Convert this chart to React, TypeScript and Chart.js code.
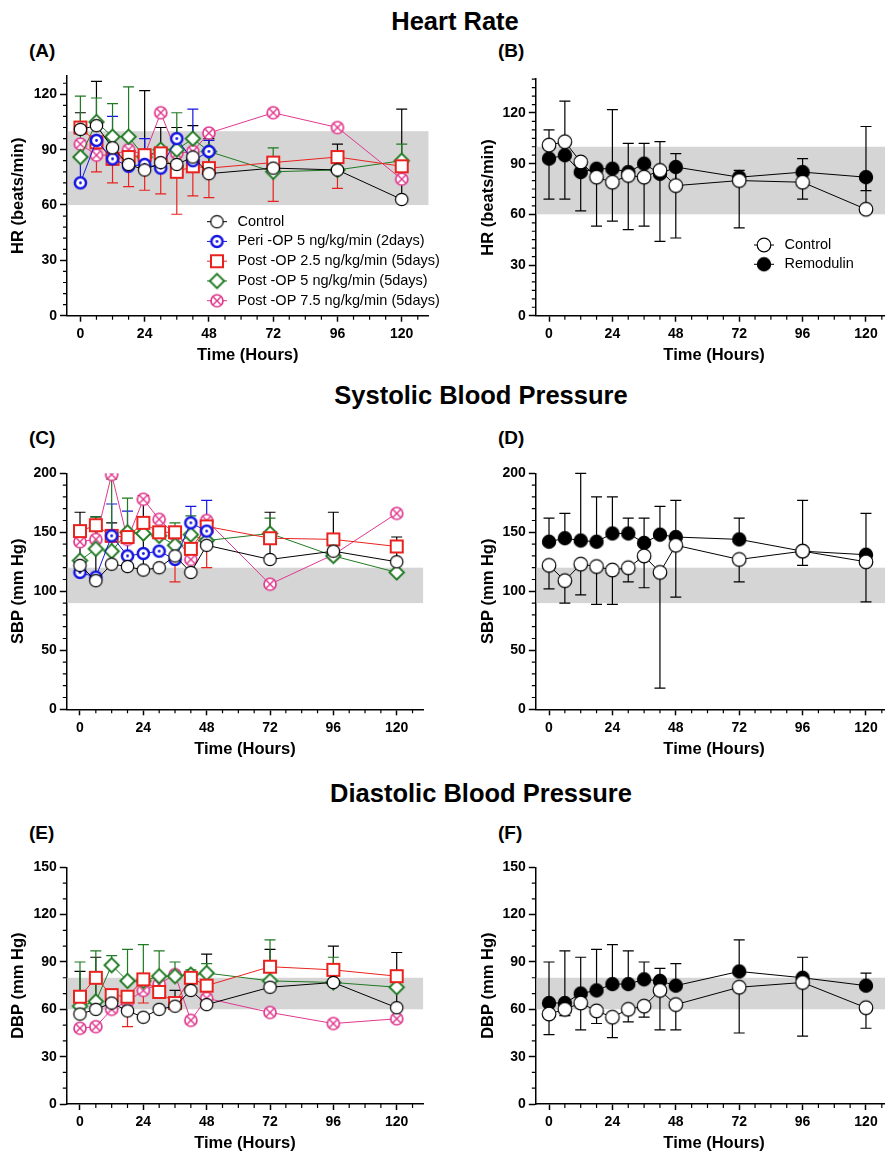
import React, { useEffect, useRef } from "react";
import { Chart, registerables } from "chart.js";
Chart.register(...registerables);

const FONT = "'Liberation Sans', Arial, Helvetica, sans-serif";

// ---------- categories / ticks ----------
const HOURS = [0, 6, 12, 18, 24, 30, 36, 42, 48, 72, 96, 120];
const HOURS_48 = [0, 6, 12, 18, 24, 30, 36, 42, 48];
const X_MAJOR = [0, 24, 48, 72, 96, 120];
const HR_TICKS = [0, 30, 60, 90, 120];
const SBP_TICKS = [0, 50, 100, 150, 200];
const DBP_TICKS = [0, 30, 60, 90, 120, 150];

// ---------- (A) Heart rate, groups ----------
const hrA_ctrl = [101, 103, 91, 82, 79, 83, 82, 86, 77, 80, 79, 63];
const hrA_ctrlHi = [110, 127, null, null, 122, 102, 102, 103, 96, 86, 93, 112];
const hrA_peri = [72, 95, 85, 81, 82, 80, 96, 84, 89];
const hrA_periHi = [87, null, 108, null, 96, null, null, 112, 95];
const hrA_p25 = [102, 94, 85, 86, 87, 88, 78, 81, 80, 83, 86, 81];
const hrA_p25Lo = [null, 78, 72, 70, 68, 66, 55, 65, 64, 62, 69, null];
const hrA_p5 = [86, 105, 97, 97, 86, 90, 90, 96, 89, 78, 79, 84];
const hrA_p5Hi = [119, 118, 115, 124, null, null, 110, null, null, 91, null, 93];
const hrA_p75 = [93, 87, 87, 90, 87, 110, 88, 89, 99, 110, 102, 74];

// ---------- (B) Heart rate, pooled ----------
const hrB_ctrl = [101, 103, 91, 82, 79, 83, 82, 86, 77, 80, 79, 63];
const hrB_ctrlHi = [110, 127, null, null, 122, 102, 102, 103, 96, 86, 93, 112];
const hrB_rem = [93, 95, 85, 87, 87, 85, 90, 84, 88, 82, 85, 82];
const hrB_remLo = [69, 69, 62, 53, 56, 51, 53, 44, 46, 52, 69, 74];

// ---------- (C) Systolic, groups ----------
const sbpC_ctrl = [122, 109, 123, 121, 118, 120, 130, 116, 139, 127, 134, 125];
const sbpC_ctrlHi = [167, 163, 158, null, 181, null, null, null, null, 167, 167, 146];
const sbpC_peri = [116, 112, 147, 130, 132, 134, 127, 158, 151];
const sbpC_periHi = [null, null, 174, 168, null, null, null, 172, 177];
const sbpC_p25 = [151, 156, 147, 146, 158, 150, 150, 136, 155, 145, 144, 138];
const sbpC_p25Lo = [null, null, null, null, null, null, 108, null, 120, null, null, null];
const sbpC_p5 = [126, 136, 134, 150, 149, 147, 139, 148, 143, 149, 130, 116];
const sbpC_p5Hi = [null, 163, 195, 179, null, null, 158, 164, null, 162, null, null];
const sbpC_p75 = [142, 144, 199, 144, 178, 161, 148, 127, 160, 106, 131, 166];

// ---------- (D) Systolic, pooled ----------
const sbpD_ctrl = [122, 109, 123, 121, 118, 120, 130, 116, 139, 127, 134, 125];
const sbpD_ctrlLo = [102, 90, 97, 89, 89, 108, 103, 18, 95, 108, 122, 91];
const sbpD_rem = [142, 145, 143, 142, 149, 149, 141, 148, 146, 144, 134, 131];
const sbpD_remHi = [162, 166, 200, 180, 180, 162, 162, 172, 177, 162, 177, 166];

// ---------- (E) Diastolic, groups ----------
const dbpE_ctrl = [57, 60, 64, 59, 55, 60, 62, 72, 63, 74, 77, 61];
const dbpE_ctrlHi = [84, 93, null, null, null, null, 72, null, 95, 98, 100, 96];
const dbpE_p25 = [68, 80, 69, 68, 79, 71, 64, 80, 75, 87, 85, 81];
const dbpE_p25Lo = [null, null, null, 49, 64, null, null, null, null, null, null, null];
const dbpE_p5 = [62, 65, 88, 78, 78, 81, 81, 82, 83, 78, 77, 74];
const dbpE_p5Hi = [90, 97, 94, 98, 101, 97, 90, 85, 89, 104, 93, null];
const dbpE_p75 = [48, 49, 60, 65, 72, 76, 82, 53, 67, 58, 51, 54];

// ---------- (F) Diastolic, pooled ----------
const dbpF_ctrl = [57, 60, 64, 59, 55, 60, 62, 72, 63, 74, 77, 61];
const dbpF_ctrlLo = [44, 56, 47, 51, 42, 52, 55, 47, 47, 45, 43, 48];
const dbpF_rem = [64, 64, 70, 72, 76, 76, 79, 78, 75, 84, 80, 75];
const dbpF_remHi = [90, 97, 93, 98, 101, 97, 90, 86, 89, 104, 93, 83];

const LBL_CTRL = "Control";
const LBL_PERI = "Peri -OP 5 ng/kg/min (2days)";
const LBL_P25 = "Post -OP 2.5 ng/kg/min (5days)";
const LBL_P5 = "Post -OP 5 ng/kg/min (5days)";
const LBL_P75 = "Post -OP 7.5 ng/kg/min (5days)";
const LBL_REM = "Remodulin";

// ---------- styles ----------
const BLACK = "#000000";
const BLUE = "#1616e2";
const RED = "#e8231f";
const GREEN = "#1f7a22";
const PINK = "#e0388e";
const BAND = "#d5d5d5";

type Marker = { shape: string; r: number; stroke: string; fill: string; lw: number };
const MK: Record<string, Marker> = {
  ctrl: { shape: "circle", r: 6.2, stroke: BLACK, fill: "#fff", lw: 1.2 },
  peri: { shape: "odot", r: 5.6, stroke: BLUE, fill: "#fff", lw: 2.5 },
  p25: { shape: "square", r: 6, stroke: RED, fill: "#fff", lw: 2 },
  p5: { shape: "diamond", r: 7.2, stroke: GREEN, fill: "#fff", lw: 1.9 },
  p75: { shape: "otimes", r: 6, stroke: PINK, fill: "#fff", lw: 1.7 },
  ctrl2: { shape: "circle", r: 6.8, stroke: BLACK, fill: "#fff", lw: 1.2 },
  rem: { shape: "circle", r: 6.6, stroke: BLACK, fill: BLACK, lw: 1.2 },
};

function drawMarker(ctx: CanvasRenderingContext2D, m: Marker, x: number, y: number) {
  ctx.save();
  ctx.lineWidth = m.lw;
  ctx.strokeStyle = m.stroke;
  ctx.fillStyle = m.fill;
  ctx.beginPath();
  if (m.shape === "square") ctx.rect(x - m.r, y - m.r, 2 * m.r, 2 * m.r);
  else if (m.shape === "diamond") {
    ctx.moveTo(x, y - m.r);
    ctx.lineTo(x + m.r, y);
    ctx.lineTo(x, y + m.r);
    ctx.lineTo(x - m.r, y);
    ctx.closePath();
  } else ctx.arc(x, y, m.r, 0, Math.PI * 2);
  ctx.fill();
  ctx.stroke();
  if (m.shape === "otimes") {
    const d = m.r * 0.62;
    ctx.lineWidth = 1.4;
    ctx.beginPath();
    ctx.moveTo(x - d, y - d);
    ctx.lineTo(x + d, y + d);
    ctx.moveTo(x + d, y - d);
    ctx.lineTo(x - d, y + d);
    ctx.stroke();
  }
  if (m.shape === "odot") {
    ctx.fillStyle = m.stroke;
    ctx.beginPath();
    ctx.arc(x, y, 1.4, 0, Math.PI * 2);
    ctx.fill();
  }
  ctx.restore();
}

const markerCache: Record<string, HTMLCanvasElement> = {};
function markerCanvas(key: string): HTMLCanvasElement {
  if (markerCache[key]) return markerCache[key];
  const m = MK[key];
  const s = Math.ceil(2 * m.r + 2 * m.lw + 2);
  const c = document.createElement("canvas");
  c.width = s;
  c.height = s;
  drawMarker(c.getContext("2d")!, m, s / 2, s / 2);
  markerCache[key] = c;
  return c;
}

// ---------- geometry (page px) ----------
type Geom = { cx: number; cy: number; cw: number; ch: number; L: number; R: number; T: number; B: number; yTitleX: number; xTitleY: number };
const GEOM: Record<string, Geom> = {
  A: { cx: 0, cy: 40, cw: 470, ch: 340, L: 67, R: 428.5, T: 75.85, B: 315.7, yTitleX: 18, xTitleY: 355 },
  B: { cx: 445, cy: 40, cw: 460, ch: 340, L: 535.8, R: 892.4, T: 79.2, B: 315.7, yTitleX: 488.3, xTitleY: 355 },
  C: { cx: 0, cy: 420, cw: 470, ch: 340, L: 66.8, R: 423.1, T: 473.3, B: 709.3, yTitleX: 18, xTitleY: 749 },
  D: { cx: 445, cy: 420, cw: 460, ch: 340, L: 535.8, R: 892.4, T: 473.3, B: 709.3, yTitleX: 488.3, xTitleY: 749 },
  E: { cx: 0, cy: 840, cw: 470, ch: 313, L: 66.8, R: 423.1, T: 867.3, B: 1104, yTitleX: 18, xTitleY: 1143 },
  F: { cx: 445, cy: 840, cw: 460, ch: 313, L: 535.8, R: 892.4, T: 867.3, B: 1104, yTitleX: 488.3, xTitleY: 1143 },
};

type SeriesDef = { label: string; xs: number[]; ys: number[]; color: string; mk: string; hi?: (number | null)[]; lo?: (number | null)[] };
type PanelDef = { key: string; yMax: number; yTicks: number[]; yMinor: number; yTitle: string; series: SeriesDef[]; legend?: { x: number; y: number; dy: number; items: { label: string; color: string; mk: string }[] } };

const PANELS: PanelDef[] = [
  {
    key: "A", yMax: 130, yTicks: HR_TICKS, yMinor: 6, yTitle: "HR (beats/min)",
    series: [
      { label: LBL_CTRL, xs: HOURS, ys: hrA_ctrl, color: BLACK, mk: "ctrl", hi: hrA_ctrlHi },
      { label: LBL_PERI, xs: HOURS_48, ys: hrA_peri, color: BLUE, mk: "peri", hi: hrA_periHi },
      { label: LBL_P25, xs: HOURS, ys: hrA_p25, color: RED, mk: "p25", lo: hrA_p25Lo },
      { label: LBL_P5, xs: HOURS, ys: hrA_p5, color: GREEN, mk: "p5", hi: hrA_p5Hi },
      { label: LBL_P75, xs: HOURS, ys: hrA_p75, color: PINK, mk: "p75" },
    ],
    legend: {
      x: 217, y: 221.7, dy: 19.75,
      items: [
        { label: LBL_CTRL, color: BLACK, mk: "ctrl" },
        { label: LBL_PERI, color: BLUE, mk: "peri" },
        { label: LBL_P25, color: RED, mk: "p25" },
        { label: LBL_P5, color: GREEN, mk: "p5" },
        { label: LBL_P75, color: PINK, mk: "p75" },
      ],
    },
  },
  {
    key: "B", yMax: 140, yTicks: HR_TICKS, yMinor: 5, yTitle: "HR (beats/min)",
    series: [
      { label: LBL_CTRL, xs: HOURS, ys: hrB_ctrl, color: BLACK, mk: "ctrl2", hi: hrB_ctrlHi },
      { label: LBL_REM, xs: HOURS, ys: hrB_rem, color: BLACK, mk: "rem", lo: hrB_remLo },
    ],
    legend: {
      x: 764, y: 245, dy: 19.3,
      items: [
        { label: LBL_CTRL, color: BLACK, mk: "ctrl2" },
        { label: LBL_REM, color: BLACK, mk: "rem" },
      ],
    },
  },
  {
    key: "C", yMax: 200, yTicks: SBP_TICKS, yMinor: 10, yTitle: "SBP (mm Hg)",
    series: [
      { label: LBL_CTRL, xs: HOURS, ys: sbpC_ctrl, color: BLACK, mk: "ctrl", hi: sbpC_ctrlHi },
      { label: LBL_PERI, xs: HOURS_48, ys: sbpC_peri, color: BLUE, mk: "peri", hi: sbpC_periHi },
      { label: LBL_P25, xs: HOURS, ys: sbpC_p25, color: RED, mk: "p25", lo: sbpC_p25Lo },
      { label: LBL_P5, xs: HOURS, ys: sbpC_p5, color: GREEN, mk: "p5", hi: sbpC_p5Hi },
      { label: LBL_P75, xs: HOURS, ys: sbpC_p75, color: PINK, mk: "p75" },
    ],
  },
  {
    key: "D", yMax: 200, yTicks: SBP_TICKS, yMinor: 10, yTitle: "SBP (mm Hg)",
    series: [
      { label: LBL_CTRL, xs: HOURS, ys: sbpD_ctrl, color: BLACK, mk: "ctrl2", lo: sbpD_ctrlLo },
      { label: LBL_REM, xs: HOURS, ys: sbpD_rem, color: BLACK, mk: "rem", hi: sbpD_remHi },
    ],
  },
  {
    key: "E", yMax: 150, yTicks: DBP_TICKS, yMinor: 10, yTitle: "DBP (mm Hg)",
    series: [
      { label: LBL_CTRL, xs: HOURS, ys: dbpE_ctrl, color: BLACK, mk: "ctrl", hi: dbpE_ctrlHi },
      { label: LBL_P25, xs: HOURS, ys: dbpE_p25, color: RED, mk: "p25", lo: dbpE_p25Lo },
      { label: LBL_P5, xs: HOURS, ys: dbpE_p5, color: GREEN, mk: "p5", hi: dbpE_p5Hi },
      { label: LBL_P75, xs: HOURS, ys: dbpE_p75, color: PINK, mk: "p75" },
    ],
  },
  {
    key: "F", yMax: 150, yTicks: DBP_TICKS, yMinor: 10, yTitle: "DBP (mm Hg)",
    series: [
      { label: LBL_CTRL, xs: HOURS, ys: dbpF_ctrl, color: BLACK, mk: "ctrl2", lo: dbpF_ctrlLo },
      { label: LBL_REM, xs: HOURS, ys: dbpF_rem, color: BLACK, mk: "rem", hi: dbpF_remHi },
    ],
  },
];

const BAND_RANGE: Record<string, [number, number]> = {
  A: [60, 100], B: [60, 100], C: [90, 120], D: [90, 120], E: [60, 80], F: [60, 80],
};

const TITLE_LH = 1.2;
const TITLE_FS = 16.5;

// ---------- plugins ----------
const bandPlugin = {
  id: "band",
  beforeDatasetsDraw(chart: any, _a: any, opts: any) {
    const { ctx, chartArea, scales } = chart;
    const y1 = scales.y.getPixelForValue(opts.range[1]);
    const y0 = scales.y.getPixelForValue(opts.range[0]);
    ctx.save();
    ctx.fillStyle = BAND;
    ctx.fillRect(chartArea.left + 0.8, y1, chartArea.right - chartArea.left - 0.8, y0 - y1);
    ctx.restore();
  },
};

const errPlugin = {
  id: "errbars",
  beforeDatasetsDraw(chart: any) {
    const { ctx, scales } = chart;
    chart.data.datasets.forEach((d: any) => {
      const draw = (arr: (number | null)[] | undefined) => {
        if (!arr) return;
        arr.forEach((v, j) => {
          if (v == null || !d.data[j]) return;
          const pt = d.data[j];
          const px = scales.x.getPixelForValue(pt.x);
          const p0 = scales.y.getPixelForValue(pt.y);
          const p1 = scales.y.getPixelForValue(v);
          ctx.beginPath();
          ctx.moveTo(px, p0);
          ctx.lineTo(px, p1);
          ctx.moveTo(px - 5.5, p1);
          ctx.lineTo(px + 5.5, p1);
          ctx.stroke();
        });
      };
      ctx.save();
      ctx.strokeStyle = d.borderColor;
      ctx.lineWidth = 1.2;
      draw(d.errHi);
      draw(d.errLo);
      ctx.restore();
    });
  },
};

const minorPlugin = {
  id: "minor",
  afterDraw(chart: any, _a: any, opts: any) {
    const { ctx, chartArea, scales } = chart;
    ctx.save();
    ctx.strokeStyle = "#000";
    ctx.lineWidth = 1.2;
    ctx.beginPath();
    for (let v = 6; v <= 126; v += 6) {
      if (X_MAJOR.includes(v)) continue;
      const px = scales.x.getPixelForValue(v);
      ctx.moveTo(px, chartArea.bottom);
      ctx.lineTo(px, chartArea.bottom + 4);
    }
    for (let v = opts.step; v <= opts.max + 0.001; v += opts.step) {
      if (opts.major.includes(v)) continue;
      const py = scales.y.getPixelForValue(v);
      ctx.moveTo(chartArea.left - 4, py);
      ctx.lineTo(chartArea.left, py);
    }
    ctx.stroke();
    ctx.restore();
  },
};

const legendPlugin = {
  id: "customLegend",
  afterDraw(chart: any, _a: any, opts: any) {
    if (!opts || !opts.items) return;
    const { ctx } = chart;
    ctx.save();
    opts.items.forEach((it: any, i: number) => {
      const cy = opts.y + i * opts.dy;
      ctx.strokeStyle = it.color;
      ctx.lineWidth = 1;
      ctx.beginPath();
      ctx.moveTo(opts.x - 10, cy);
      ctx.lineTo(opts.x + 10, cy);
      ctx.stroke();
      const img = markerCanvas(it.mk);
      ctx.drawImage(img, opts.x - img.width / 2, cy - img.height / 2);
      ctx.fillStyle = "#000";
      ctx.font = `14.5px ${FONT}`;
      ctx.textBaseline = "middle";
      ctx.textAlign = "left";
      ctx.fillText(it.label, opts.x + 20.5, cy);
    });
    ctx.restore();
  },
};

function buildConfig(p: PanelDef): any {
  const g = GEOM[p.key];
  const yW = g.L - g.cx;
  const padT = g.T - g.cy;
  const padR = g.cx + g.cw - g.R;
  const xH = g.cy + g.ch - g.B;
  const lh = TITLE_FS * TITLE_LH;
  const yTitlePad = g.yTitleX - g.cx - lh / 2;
  const xTitlePad = g.cy + g.ch - g.xTitleY - lh / 2;
  const tickFont = { family: FONT, size: 14, weight: "bold" };
  const titleFont = { family: FONT, size: TITLE_FS, weight: "bold", lineHeight: TITLE_LH };
  const datasets = p.series.map((s) => ({
    label: s.label,
    data: s.xs.map((x, i) => ({ x, y: s.ys[i] })),
    borderColor: s.color,
    backgroundColor: s.color,
    borderWidth: 1,
    pointStyle: markerCanvas(s.mk),
    pointRadius: MK[s.mk].r,
    pointHoverRadius: MK[s.mk].r,
    tension: 0,
    fill: false,
    errHi: s.hi,
    errLo: s.lo,
  }));
  const legendOpts = p.legend
    ? { x: p.legend.x - g.cx, y: p.legend.y - g.cy, dy: p.legend.dy, items: p.legend.items }
    : {};
  return {
    type: "line",
    data: { datasets },
    options: {
      responsive: false,
      animation: false,
      events: [],
      layout: { padding: { left: 0, top: padT, right: padR, bottom: 0 } },
      plugins: {
        legend: { display: false },
        tooltip: { enabled: false },
        band: { range: BAND_RANGE[p.key] },
        minor: { step: p.yMinor, max: p.yMax, major: p.yTicks },
        customLegend: legendOpts,
      },
      scales: {
        x: {
          type: "linear",
          min: -5,
          max: 130,
          afterBuildTicks: (s: any) => {
            s.ticks = X_MAJOR.map((v) => ({ value: v }));
          },
          afterFit: (s: any) => {
            s.height = xH;
          },
          grid: { drawOnChartArea: false, drawTicks: true, tickLength: 6, tickWidth: 1.5, tickColor: "#000" },
          border: { display: true, color: "#000", width: 1.5 },
          ticks: { color: "#000", font: tickFont, padding: 4, maxRotation: 0, autoSkip: false },
          title: { display: true, text: "Time (Hours)", color: "#000", font: titleFont, padding: { top: 0, bottom: xTitlePad } },
        },
        y: {
          type: "linear",
          min: 0,
          max: p.yMax,
          afterBuildTicks: (s: any) => {
            s.ticks = p.yTicks.map((v) => ({ value: v }));
          },
          afterFit: (s: any) => {
            s.width = yW;
          },
          grid: { drawOnChartArea: false, drawTicks: true, tickLength: 7, tickWidth: 1.5, tickColor: "#000" },
          border: { display: true, color: "#000", width: 1.5 },
          ticks: { color: "#000", font: tickFont, padding: 3, autoSkip: false },
          title: { display: true, text: p.yTitle, color: "#000", font: titleFont, padding: { top: yTitlePad, bottom: 0 } },
        },
      },
    },
    plugins: [bandPlugin, errPlugin, minorPlugin, legendPlugin],
  };
}

function Panel({ p }: { p: PanelDef }) {
  const ref = useRef<HTMLCanvasElement | null>(null);
  useEffect(() => {
    if (!ref.current) return;
    const chart = new Chart(ref.current, buildConfig(p));
    return () => chart.destroy();
  }, [p]);
  const g = GEOM[p.key];
  return (
    <canvas
      ref={ref}
      width={g.cw}
      height={g.ch}
      style={{ position: "absolute", left: g.cx, top: g.cy, width: g.cw, height: g.ch }}
    />
  );
}

const SECTION_TITLES = [
  { text: "Heart Rate", cx: 455, top: 9 },
  { text: "Systolic Blood Pressure", cx: 481, top: 383 },
  { text: "Diastolic Blood Pressure", cx: 481, top: 781 },
];
const PANEL_LABELS = [
  { text: "(A)", left: 29, top: 41 },
  { text: "(B)", left: 498, top: 41 },
  { text: "(C)", left: 29, top: 428 },
  { text: "(D)", left: 498, top: 428 },
  { text: "(E)", left: 29, top: 823 },
  { text: "(F)", left: 498, top: 823 },
];

export default function App() {
  return (
    <div
      style={{
        position: "absolute",
        left: 0,
        top: 0,
        width: 885,
        height: 1153,
        overflow: "hidden",
        background: "#fff",
        fontFamily: FONT,
        color: "#000",
      }}
    >
      {SECTION_TITLES.map((t) => (
        <div
          key={t.text}
          style={{
            position: "absolute",
            left: t.cx,
            top: t.top,
            transform: "translateX(-50%)",
            fontSize: 25.5,
            lineHeight: 1,
            fontWeight: "bold",
            whiteSpace: "nowrap",
          }}
        >
          {t.text}
        </div>
      ))}
      {PANEL_LABELS.map((t) => (
        <div
          key={t.text}
          style={{
            position: "absolute",
            left: t.left,
            top: t.top,
            fontSize: 19,
            lineHeight: 1,
            fontWeight: "bold",
            whiteSpace: "nowrap",
          }}
        >
          {t.text}
        </div>
      ))}
      {PANELS.map((p) => (
        <Panel key={p.key} p={p} />
      ))}
    </div>
  );
}
